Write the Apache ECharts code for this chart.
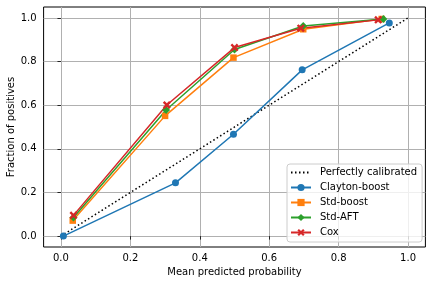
<!DOCTYPE html>
<html>
<head>
<meta charset="utf-8">
<script src="https://cdn.jsdelivr.net/npm/echarts@6/dist/echarts.min.js"></script>
<style>
html,body{margin:0;padding:0;background:#fff;}
#c{width:431px;height:285px;}
</style>
</head>
<body>
<div id="c"></div>
<script>
// Data
var tickValues = [0, 0.2, 0.4, 0.6, 0.8, 1.0];
var calX = [0, 1];
var calY = [0, 1];
var claytonX = [0.007, 0.330, 0.497, 0.695, 0.946];
var claytonY = [0.000, 0.244, 0.467, 0.762, 0.977];
var stdBoostX = [0.034, 0.300, 0.497, 0.698, 0.924];
var stdBoostY = [0.071, 0.551, 0.818, 0.948, 0.995];
var stdAftX = [0.036, 0.303, 0.500, 0.698, 0.929];
var stdAftY = [0.085, 0.578, 0.855, 0.963, 0.995];
var coxX = [0.036, 0.305, 0.500, 0.691, 0.914];
var coxY = [0.095, 0.601, 0.864, 0.953, 0.991];

function pairs(xs, ys) { return xs.map(function (x, i) { return [x, ys[i]]; }); }

var FONT = 'DejaVu Sans';
var clear = 'rgba(0,0,0,0)';
var xShape = 'path://M0,1.7 L1.7,0 L4,2.3 L6.3,0 L8,1.7 L5.7,4 L8,6.3 L6.3,8 L4,5.7 L1.7,8 L0,6.3 L2.3,4 Z';

function axis(name, isX) {
  return {
    type: 'value',
    min: -0.05,
    max: 1.05,
    interval: 0.05,
    name: name,
    nameLocation: 'middle',
    nameGap: isX ? 20.5 : 27,
    nameMoveOverlap: false,
    nameTextStyle: { fontFamily: FONT, fontSize: 10, color: '#000' },
    axisLine: { show: false },
    axisTick: { show: true, customValues: tickValues, length: 3.5, inside: false, lineStyle: { color: '#000', width: 0.8 } },
    axisLabel: {
      customValues: tickValues,
      margin: isX ? 6 : 7,
      fontFamily: FONT, fontSize: 10, color: '#000',
      formatter: function (v) { return v.toFixed(1); }
    },
    splitLine: {
      show: true,
      lineStyle: { color: '#b0b0b0', width: 1 }
    }
  };
}

function lineSeries(name, data, color, symbol, size) {
  return {
    name: name, type: 'line', data: data,
    symbol: symbol, symbolSize: size, showSymbol: true,
    lineStyle: { color: color, width: 1.5 },
    itemStyle: { color: color },
    emphasis: { disabled: true },
    animation: false
  };
}

var chart = echarts.init(document.getElementById('c'), null, { renderer: 'canvas' });
chart.setOption({
  animation: false,
  grid: {
    left: 43.6, right: 5.6, top: 7, bottom: 38,
    outerBoundsMode: 'none',
    containLabel: false,
    show: true, borderColor: '#000', borderWidth: 1, backgroundColor: clear
  },
  xAxis: axis('Mean predicted probability', true),
  yAxis: axis('Fraction of positives', false),
  legend: {
    orient: 'vertical',
    left: 287, top: 164,
    padding: [1, 5, 2, 3],
    itemGap: 0,
    itemWidth: 20,
    itemHeight: 9,
    backgroundColor: 'rgba(255,255,255,0.8)',
    borderColor: '#cccccc',
    borderWidth: 1,
    borderRadius: 3,
    textStyle: { fontFamily: FONT, fontSize: 10, color: '#000', lineHeight: 15, padding: [0, 0, 0, 4] },
    data: [
      { name: 'Perfectly calibrated', itemStyle: { opacity: 0, color: clear, borderWidth: 0 } },
      'Clayton-boost', 'Std-boost', 'Std-AFT', 'Cox'
    ]
  },
  series: [
    {
      name: 'Perfectly calibrated', type: 'line', data: pairs(calX, calY),
      symbol: 'none', showSymbol: false,
      lineStyle: { color: '#000', width: 1.5, type: [1.5, 2.5] },
      itemStyle: { color: '#000' },
      emphasis: { disabled: true }
    },
    lineSeries('Clayton-boost', pairs(claytonX, claytonY), '#1f77b4', 'circle', 7),
    lineSeries('Std-boost', pairs(stdBoostX, stdBoostY), '#ff7f0e', 'rect', 6.5),
    lineSeries('Std-AFT', pairs(stdAftX, stdAftY), '#2ca02c', 'diamond', 8),
    lineSeries('Cox', pairs(coxX, coxY), '#d62728', xShape, 8)
  ]
});
</script>
</body>
</html>
